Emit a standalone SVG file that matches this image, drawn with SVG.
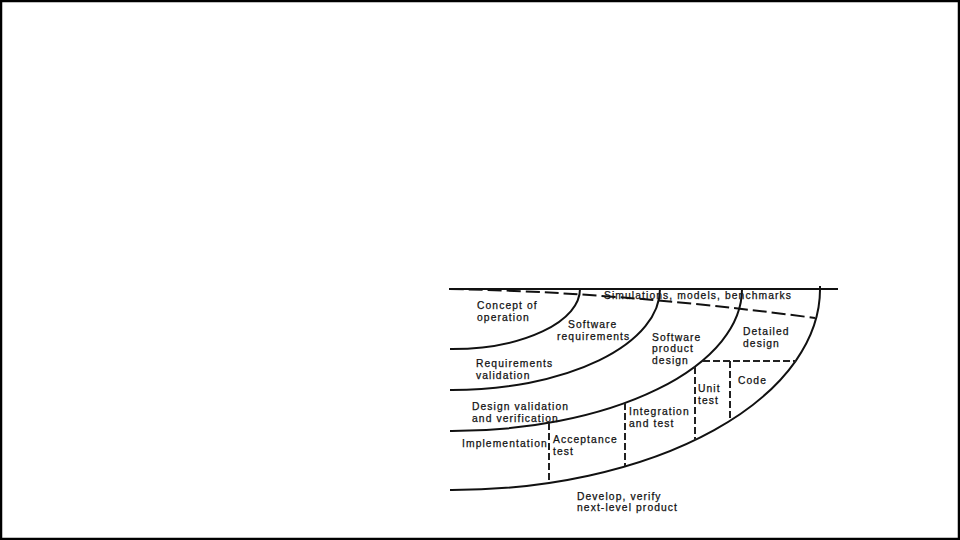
<svg xmlns="http://www.w3.org/2000/svg" width="960" height="540" viewBox="0 0 960 540">
  <style>
    .ln { fill: none; stroke: #111; stroke-width: 2; }
    .dh { fill: none; stroke: #111; stroke-width: 2; stroke-dasharray: 14 5; }
    .dv { fill: none; stroke: #222; stroke-width: 2; stroke-dasharray: 7 3; }
    text { font-family: "Liberation Sans", Arial, sans-serif; font-size: 10.3px; letter-spacing: 1.1px; fill: #111; stroke: #111; stroke-width: 0.25; }
  </style>
  <rect x="0" y="0" width="960" height="540" fill="#fff"/>
  <rect x="0" y="0" width="960" height="540" fill="none" stroke="#000" stroke-width="4.5"/>

  <g id="connectors">
    <path class="ln" d="M 449 289 L 838 289"/>
    <path class="dh" d="M 450 289 Q 620 292 815 318"/>
    <path class="ln" d="M 450 349 L 452 349 A 128 60 0 0 0 580 289"/>
    <path class="ln" d="M 450 390 L 452 390 A 208 101 0 0 0 660 289"/>
    <path class="ln" d="M 450 431 L 452 431 A 290 142 0 0 0 742 289"/>
    <path class="ln" d="M 450 490 L 452 490 A 368 201 0 0 0 820 286"/>
    <path class="dv" d="M 703 361 L 796 361"/>
    <path class="dv" d="M 549 423 L 549 482"/>
    <path class="dv" d="M 625 403 L 625 466"/>
    <path class="dv" d="M 695 367 L 695 440"/>
    <path class="dv" d="M 730 361 L 730 420"/>
  </g>

  <g id="concept"><text x="477" y="309">Concept of</text><text x="477" y="321">operation</text></g>
  <g id="sim"><text x="604" y="299">Simulations, models, benchmarks</text></g>
  <g id="swreq"><text x="568" y="328">Software</text><text x="557" y="340">requirements</text></g>
  <g id="swprod"><text x="652" y="341">Software</text><text x="652" y="352">product</text><text x="652" y="364">design</text></g>
  <g id="detailed"><text x="743" y="335">Detailed</text><text x="743" y="347">design</text></g>
  <g id="reqval"><text x="476" y="367">Requirements</text><text x="476" y="379">validation</text></g>
  <g id="code"><text x="738" y="384">Code</text></g>
  <g id="unit"><text x="698" y="392">Unit</text><text x="698" y="404">test</text></g>
  <g id="desval"><text x="472" y="410">Design validation</text><text x="472" y="422">and verification</text></g>
  <g id="integ"><text x="629" y="415">Integration</text><text x="629" y="427">and test</text></g>
  <g id="impl"><text x="462" y="447">Implementation</text></g>
  <g id="accept"><text x="553" y="443">Acceptance</text><text x="553" y="455">test</text></g>
  <g id="develop"><text x="577" y="500">Develop, verify</text><text x="577" y="511">next-level product</text></g>
</svg>
